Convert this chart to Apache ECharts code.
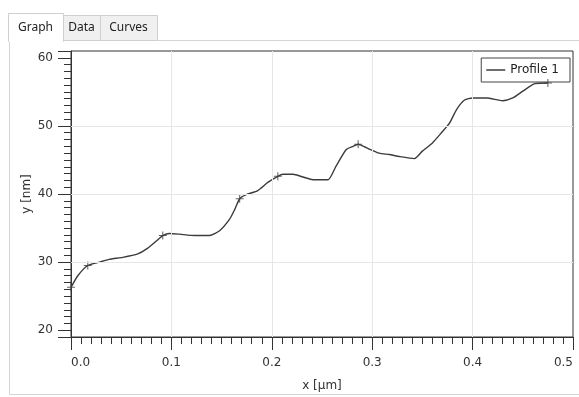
<!DOCTYPE html>
<html>
<head>
<meta charset="utf-8">
<title>Profile 1</title>
<script src="https://cdn.jsdelivr.net/npm/echarts@6/dist/echarts.min.js"></script>
<style>
  html, body { margin: 0; padding: 0; background: #fff; }
  #chart { width: 579px; height: 397px; }
</style>
</head>
<body>
<div id="chart"></div>
<script>
// profile (x in µm, y in nm)
const profileX = [0, 0.0068, 0.0167, 0.0284, 0.038, 0.0516, 0.0665, 0.075, 0.085, 0.0914, 0.098, 0.108, 0.123, 0.138, 0.148, 0.158, 0.163, 0.168, 0.1745, 0.186, 0.196, 0.206, 0.211, 0.221, 0.231, 0.241, 0.256, 0.264, 0.274, 0.281, 0.286, 0.294, 0.307, 0.317, 0.327, 0.342, 0.350, 0.360, 0.369, 0.377, 0.384, 0.392, 0.400, 0.414, 0.430, 0.440, 0.450, 0.462, 0.475]
const profileY = [26.3, 28.0, 29.5, 30.0, 30.4, 30.7, 31.2, 31.9, 33.1, 33.9, 34.2, 34.1, 33.9, 33.9, 34.6, 36.3, 37.7, 39.3, 39.9, 40.5, 41.7, 42.6, 42.9, 42.9, 42.5, 42.1, 42.1, 44.1, 46.5, 47.0, 47.3, 46.8, 46.0, 45.8, 45.5, 45.2, 46.3, 47.5, 49.0, 50.4, 52.4, 53.8, 54.1, 54.1, 53.7, 54.1, 55.1, 56.2, 56.3]
// the little "+" marks on the profile
const markX = [0, 0.0167, 0.0914, 0.168, 0.206, 0.286, 0.475]
const markY = [26.3, 29.5, 33.9, 39.3, 42.6, 47.3, 56.3]

// axes
const xMin = 0
const xMax = 0.5
const yMin = 19
const yMax = 61
const xGrid = [0.1, 0.2, 0.3, 0.4]
const yGrid = [30, 40, 50]
const tabNames = ['Graph', 'Data', 'Curves']

const axisColor = '#333'
const labelFont = { fontFamily: 'DejaVu Sans', fontSize: 12, color: '#333' }

let chart = echarts.init(document.getElementById('chart'))

// tabs + panel frame drawn behind the chart
let tabX = [8, 63, 100, 157]
let graphics = [
  {
    type: 'rect', z: -10,
    shape: { x: 9.5, y: 40.5, width: 600, height: 354 },
    style: { fill: '#fff', stroke: '#d4d4d4', lineWidth: 1 }
  }
]
tabNames.forEach((name, i) => {
  let sel = i === 0
  let top = sel ? 13 : 15
  graphics.push({
    type: 'rect', z: sel ? -8 : -9,
    shape: { x: tabX[i] + 0.5, y: top + 0.5, width: tabX[i + 1] - tabX[i], height: (sel ? 41 : 40) - top },
    style: { fill: sel ? '#fff' : '#f0f0f0', stroke: '#cfcfcf', lineWidth: 1 }
  })
  if (sel) {
    // hide the panel line under the active tab
    graphics.push({
      type: 'rect', z: -7,
      shape: { x: tabX[i] + 1, y: 39, width: tabX[i + 1] - tabX[i] - 1, height: 3 },
      style: { fill: '#fff' }
    })
  }
  graphics.push({
    type: 'text', z: -6,
    x: (tabX[i] + tabX[i + 1]) / 2, y: 28,
    style: { text: name, fontFamily: 'Noto Sans', fontSize: 12, fill: '#222', align: 'center', verticalAlign: 'middle' }
  })
})

chart.setOption({
  animation: false,
  backgroundColor: '#fff',
  graphic: graphics,
  grid: {
    left: 71,
    right: 6,
    top: 51,
    bottom: 59,
    show: true,
    backgroundColor: '#fff',
    borderColor: axisColor,
    borderWidth: 1
  },
  legend: {
    data: ['Profile 1'],
    right: 9,
    top: 58,
    icon: 'rect',
    itemWidth: 19,
    itemHeight: 1.5,
    itemGap: 5,
    padding: [6, 11, 6, 5],
    borderColor: '#444',
    borderWidth: 1,
    backgroundColor: '#fff',
    textStyle: { fontFamily: 'DejaVu Sans', fontSize: 12, color: '#222' }
  },
  xAxis: {
    type: 'value',
    min: xMin,
    max: xMax,
    interval: 0.1,
    name: 'x [μm]',
    nameLocation: 'middle',
    nameGap: 43,
    nameMoveOverlap: false,
    nameTextStyle: labelFont,
    axisLine: { lineStyle: { color: axisColor } },
    axisTick: { length: 13, lineStyle: { color: axisColor } },
    minorTick: { show: true, splitNumber: 10, length: 7, lineStyle: { color: axisColor } },
    splitLine: { show: false },
    axisLabel: Object.assign({
      margin: 20,
      alignMinLabel: 'left',
      alignMaxLabel: 'right',
      formatter: v => v.toFixed(1)
    }, labelFont)
  },
  yAxis: [
    {
      // main ticks and labels
      type: 'value',
      min: yMin,
      max: yMax,
      splitNumber: 4,
      minInterval: 10,
      maxInterval: 10,
      name: 'y [nm]',
      nameLocation: 'middle',
      nameGap: 38,
      nameMoveOverlap: false,
      nameRotate: 90,
      nameTextStyle: labelFont,
      axisLine: { show: true, lineStyle: { color: axisColor } },
      axisTick: { show: true, length: 13, lineStyle: { color: axisColor } },
      splitLine: { show: false },
      axisLabel: Object.assign({
        margin: 18,
        formatter: v => (v % 10 === 0 ? String(v) : '')
      }, labelFont)
    },
    {
      // small ticks every 1 nm
      type: 'value',
      position: 'left',
      min: yMin,
      max: yMax,
      interval: 1,
      axisLine: { show: false },
      axisTick: { show: true, length: 7, lineStyle: { color: axisColor } },
      axisLabel: { show: false },
      splitLine: { show: false }
    }
  ],
  series: [
    {
      name: 'grid',
      type: 'line',
      data: [],
      z: 1,
      silent: true,
      markLine: {
        silent: true,
        symbol: 'none',
        label: { show: false },
        lineStyle: { color: '#e6e6e6', width: 1, type: 'solid' },
        data: xGrid.map(v => ({ xAxis: v })).concat(yGrid.map(v => ({ yAxis: v })))
      }
    },
    {
      name: 'Profile 1',
      type: 'line',
      z: 3,
      smooth: 0.2,
      symbol: 'none',
      color: '#3c3c3c',
      lineStyle: { color: '#3c3c3c', width: 1.4 },
      data: profileX.map((x, i) => [x, profileY[i]])
    },
    {
      name: 'marks',
      type: 'scatter',
      z: 4,
      silent: true,
      symbol: 'path://M4,0h1.2v4h4v1.2h-4v4h-1.2v-4h-4v-1.2h4z',
      symbolSize: 8,
      itemStyle: { color: '#3c3c3c' },
      data: markX.map((x, i) => [x, markY[i]])
    }
  ]
})
</script>
</body>
</html>
